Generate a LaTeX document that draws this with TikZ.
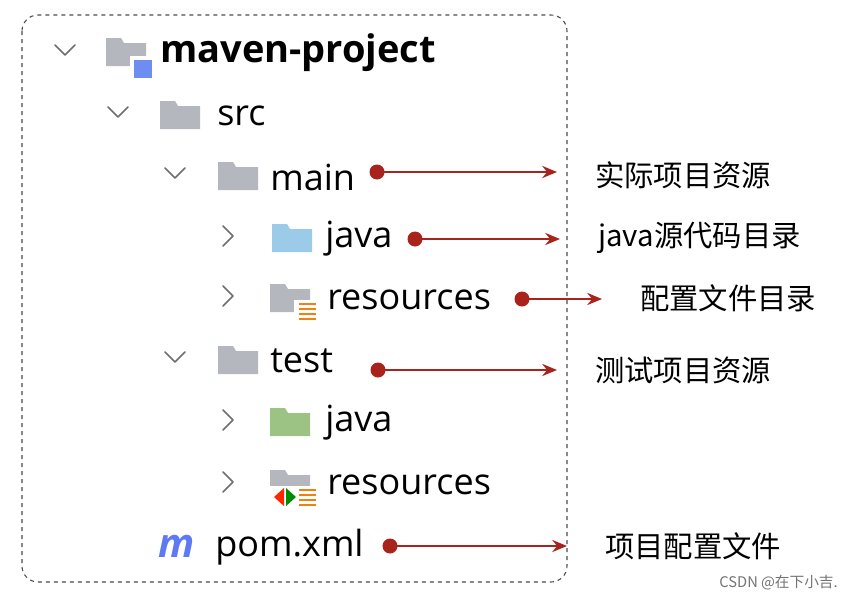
\documentclass[tikz,border=0pt]{standalone}
\usepackage{fontspec}
\setmainfont{Open Sans}
\newfontfamily\cjk{Noto Sans CJK SC}
\usetikzlibrary{calc,arrows.meta}
\definecolor{arrowred}{HTML}{A8231C}
\definecolor{foldergray}{HTML}{B4B8BE}
\definecolor{folderblue}{HTML}{9CCBEA}
\definecolor{foldergreen}{HTML}{9CC383}
\definecolor{chevgray}{HTML}{6E6E6E}
\tikzset{
  item/.style={anchor=west, inner sep=0pt, font=\fontsize{27}{29}\selectfont},
  note/.style={anchor=west, inner sep=0pt, font=\cjk\fontsize{22}{24}\selectfont},
  pointer/.style={arrowred, line width=2pt, -{Stealth[length=11pt,width=9pt]}},
  chev/.style={chevgray, line width=1.3pt, line cap=round, line join=round}
}
% folder icon: #1 colour, #2 left x, #3 centre y
\newcommand{\foldericon}[3]{
  \fill[#1] (#2,#3+14) -- (#2,#3-14) -- (#2+15,#3-14) -- (#2+18,#3-9) -- (#2+40,#3-9) -- (#2+40,#3+14) -- cycle;
}
\newcommand{\chevdown}[2]{\draw[chev] (#1-10,#2-5) -- (#1,#2+5) -- (#1+10,#2-5);}
\newcommand{\chevright}[2]{\draw[chev] (#1-5,#2-10) -- (#1+5,#2) -- (#1-5,#2+10);}

\begin{document}
\begin{tikzpicture}[x=0.75pt, y=-0.75pt]
    % canvas
    \useasboundingbox (0,0) rectangle (842,603);
    \draw[black!70, dashed, line width=0.8pt, rounded corners=12pt] (22,15) rectangle (567,582);

    % 1. Tree rows
    \chevdown{65}{50}
    \foldericon{foldergray}{106}{52}
    \fill[white] (130,56) rectangle (152,78);
    \fill[folderblue!70!blue] (134,60) rectangle (152,78);
    \node[item, font=\bfseries\fontsize{28.5}{30}\selectfont] (project) at (160,53) {maven-project};

    \chevdown{118}{112}
    \foldericon{foldergray}{160}{115}
    \node[item] (src) at (217,116) {src};

    \chevdown{175}{173}
    \foldericon{foldergray}{218}{176}
    \node[item] (main) at (270,177) {main};

    \chevright{228}{236}
    \foldericon{folderblue}{272}{238}
    \node[item] (mainjava) at (325,239) {java};

    \chevright{228}{296}
    \foldericon{foldergray}{270}{298}
    \fill[white] (294,300) rectangle (318,322);
    \foreach \k in {0,1,2,3} \draw[orange!80!brown, line width=1.5pt] (299,304+5*\k) -- (316,304+5*\k);
    \node[item] (mainres) at (327,300) {resources};

    \chevdown{175}{357}
    \foldericon{foldergray}{218}{360}
    \node[item] (test) at (270,361) {test};

    \chevright{228}{420}
    \foldericon{foldergreen}{270}{422}
    \node[item] (testjava) at (325,423) {java};

    \chevright{228}{482}
    \foldericon{foldergray}{270}{484}
    \fill[white] (270,486) rectangle (318,508);
    \fill[red!70!orange] (284,488) -- (274,497) -- (284,506) -- cycle;
    \fill[green!55!black] (286,488) -- (296,497) -- (286,506) -- cycle;
    \foreach \k in {0,1,2,3} \draw[orange!80!brown, line width=1.5pt] (299,490+5*\k) -- (316,490+5*\k);
    \node[item] (testres) at (327,485) {resources};

    \node[anchor=west, inner sep=0pt, text=folderblue!60!blue, font=\itshape\bfseries\fontsize{30}{32}\selectfont] (mvn) at (158,546) {m};
    \node[item] (pom) at (215,547) {pom.xml};

    % 2. Pointers and notes
    \node[note] (mainnote) at (595,175) {实际项目资源};
    \node[note] (javanote) at (598,238) {java源代码目录};
    \node[note] (resnote) at (640,298) {配置文件目录};
    \node[note] (testnote) at (595,370) {测试项目资源};
    \node[note] (pomnote) at (605,546) {项目配置文件};

    \coordinate (d1) at (377,172);
    \coordinate (d2) at (415,239);
    \coordinate (d3) at (522,299);
    \coordinate (d4) at (378,370);
    \coordinate (d5) at (390,546);
    \foreach \d/\t in {d1/mainnote, d2/javanote, d3/resnote, d4/testnote, d5/pomnote} {
      \fill[arrowred] (\d) circle (7.5);
      \draw[pointer] (\d) -- ($(\t.west |- \d)+(-38,0)$);
    }

    % watermark
    \node[anchor=east, inner sep=0pt, text=black!55, font=\cjk\fontsize{11}{12}\selectfont] (mark) at (838,583) {CSDN @在下小吉.};
\end{tikzpicture}
\end{document}
